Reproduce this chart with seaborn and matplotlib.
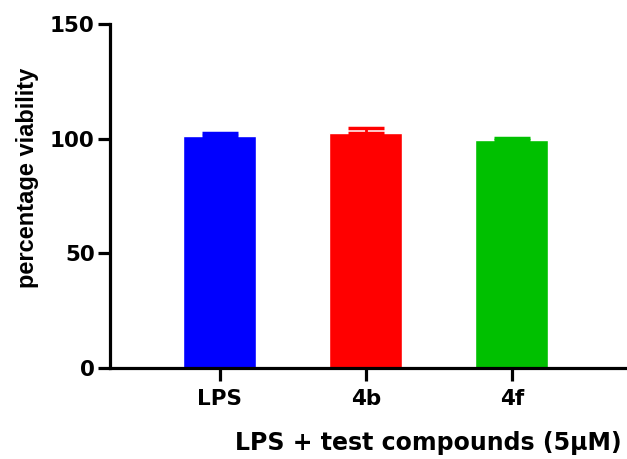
import matplotlib
matplotlib.use("Agg")
import matplotlib.pyplot as plt
import seaborn as sns
import pandas as pd
import numpy as np

categories = ["LPS", "4b", "4f"]
values = [101.2, 102.4, 99.4]
errors = [1.1, 2.1, 0.9]
colors = ["#0000FF", "#FF0000", "#00C000"]

df = pd.DataFrame({"group": categories, "viability": values})

sns.set_theme(style="ticks")
plt.rcParams['font.family'] = ['DejaVu Sans']
plt.rcParams['font.weight'] = 'bold'
plt.rcParams['text.color'] = 'black'
plt.rcParams['xtick.color'] = 'black'
plt.rcParams['ytick.color'] = 'black'

W, H = 627, 459
fig = plt.figure(figsize=(W/100, H/100), dpi=100)
left, right, top, bottom = 110, 627, 24, 368
ax = fig.add_axes([left/W, 1 - bottom/H, (right-left)/W, (bottom-top)/H])

sns.barplot(data=df, x="group", y="viability", hue="group", palette=colors,
            width=0.5, ax=ax, legend=False, errorbar=None, saturation=1)
for i, (v, e, c) in enumerate(zip(values, errors, colors)):
    ax.errorbar(i, v, yerr=[[0], [e]], fmt='none', ecolor=c, elinewidth=2,
                capsize=13, capthick=2.5, zorder=3)

ax.set_ylim(0, 150)
ax.set_yticks([0, 50, 100, 150])
ax.set_xlim(-0.753, 2.79)
for s in ["top", "right"]:
    ax.spines[s].set_visible(False)
for s in ["left", "bottom"]:
    ax.spines[s].set_linewidth(2.3)
    ax.spines[s].set_color("black")
ax.tick_params(axis='both', width=2.3, length=9, labelsize=15.5, color='black',
               labelcolor='black')
ax.tick_params(axis='y', pad=2)
ax.tick_params(axis='x', pad=6)
for lab in ax.get_xticklabels() + ax.get_yticklabels():
    lab.set_fontweight('bold')
ax.set_ylabel("")
ax.set_xlabel("")
fig.text(622/W, 1 - 450/H, "LPS + test compounds (5μM)", ha='right', va='baseline',
         fontsize=17, fontweight='bold', color='black')
fig.text(27.5/W, 1 - 178/H, "percentage viability", rotation=90, ha='center',
         va='center', fontsize=17, fontweight='bold', color='black',
         family=['Liberation Sans', 'DejaVu Sans'])

fig.savefig("out.png", dpi=100)
